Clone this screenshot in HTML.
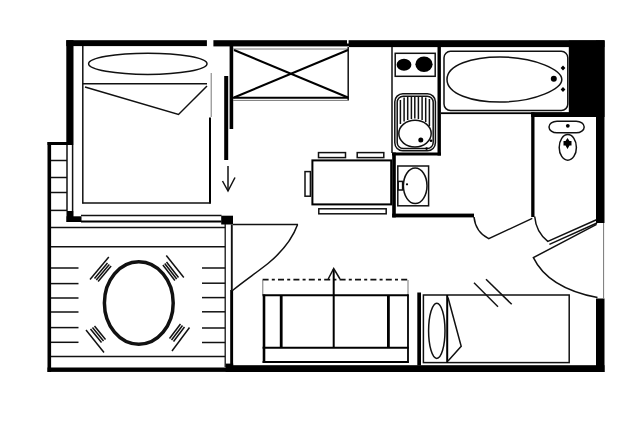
<!DOCTYPE html>
<html><head><meta charset="utf-8"><title>Floor plan</title>
<style>
html,body{margin:0;padding:0;background:#fff;overflow:hidden}
svg{display:block}
.w{fill:#000;stroke:none}
.t{fill:none;stroke:#111;stroke-width:1.5}
.m{fill:none;stroke:#000;stroke-width:2}
.k{fill:none;stroke:#000;stroke-width:3}
.g{fill:none;stroke:#777;stroke-width:1}
</style></head><body>
<svg width="640" height="427" viewBox="0 0 640 427">
<rect x="0" y="0" width="640" height="427" fill="#fff"/>

<!-- ===== outer walls ===== -->
<g class="w">
<rect x="66.3" y="40.2" width="140.6" height="5.9"/>
<rect x="213.4" y="40.2" width="135.6" height="6.2"/><rect x="349" y="40.2" width="255.5" height="6.9"/>
<rect x="66.3" y="40.2" width="7.2" height="104.8"/>
<rect x="66.5" y="211" width="7" height="11"/>
<rect x="66.5" y="216.3" width="15" height="5.7"/>
<rect x="568.8" y="40.5" width="35.7" height="76.5"/>
<rect x="596" y="40.5" width="8.5" height="182.5"/>
<rect x="596" y="298.5" width="8.5" height="73.5"/>
<rect x="233" y="365.2" width="371.5" height="6.8"/>
<rect x="225.6" y="363.6" width="7.6" height="8.4"/>
<!-- balcony thick frame -->
<rect x="47.5" y="142" width="3.6" height="230"/>
<rect x="47.5" y="142" width="19.5" height="3"/>
<rect x="47.5" y="367.5" width="180" height="4.4"/>
<!-- interior walls -->
<rect x="437.5" y="46" width="3.4" height="109.5"/>
<rect x="392" y="152.5" width="49" height="3"/>
<rect x="392.2" y="152.5" width="3.6" height="64.9"/>
<rect x="392.2" y="213.6" width="81.8" height="3.8"/>
<rect x="531.2" y="112.4" width="3.3" height="104.6"/><rect x="531.2" y="112.4" width="38" height="4.6"/>
<rect x="441" y="112.3" width="128" height="1.8"/>
<rect x="417.3" y="292.5" width="3.7" height="73"/>
<rect x="221.2" y="215.7" width="11.8" height="8.8"/>
<rect x="229.6" y="46" width="3.6" height="83"/>
<rect x="224.2" y="76" width="4" height="84"/>
<rect x="230.2" y="290" width="2.9" height="76"/>
<rect x="209" y="117.5" width="2" height="86"/>
</g>
<rect x="347" y="40" width="1.6" height="3.5" fill="#fff"/>
<line class="g" x1="603.6" y1="223" x2="603.6" y2="298.5" stroke="#333"/>

<!-- ===== left window / balcony ladder ===== -->
<line class="t" x1="67" y1="145" x2="67" y2="211"/>
<line class="t" x1="72.6" y1="145" x2="72.6" y2="211"/>
<g class="t">
<line x1="51" y1="160.5" x2="67" y2="160.5"/>
<line x1="51" y1="177.5" x2="67" y2="177.5"/>
<line x1="51" y1="192.5" x2="67" y2="192.5"/>
<line x1="51" y1="210.4" x2="67" y2="210.4"/>
</g>

<!-- ===== bedroom bottom window ===== -->
<line class="t" x1="81" y1="215.6" x2="221.5" y2="215.6"/>
<line class="m" x1="81" y1="221.6" x2="221.5" y2="221.6" stroke-width="1.8"/>

<!-- ===== double bed ===== -->
<g class="t" stroke-width="1.5">
<line x1="82.8" y1="46" x2="82.8" y2="203.6"/>
<line x1="82.2" y1="203" x2="210.8" y2="203"/>
<line x1="82.8" y1="83.8" x2="207" y2="83.8"/>
<ellipse cx="147.8" cy="63.8" rx="59.2" ry="10.6"/>
<polyline points="85,87 178.5,114.5 207,86"/>
</g>
<line class="g" x1="211.2" y1="73" x2="211.2" y2="117" stroke="#999"/>

<!-- ===== sliding door arrow ===== -->
<g class="t">
<line x1="228" y1="166" x2="228" y2="191"/>
<polyline points="222.5,181 228,191 235,177.5"/>
</g>

<!-- ===== closet ===== -->
<g>
<line class="g" x1="233" y1="49" x2="348" y2="49" stroke="#888" stroke-width="1.8"/>

<line class="m" x1="233" y1="97.8" x2="349" y2="97.8"/>
<line class="g" x1="233" y1="100.4" x2="349" y2="100.4" stroke="#888"/>
<line class="t" x1="348.2" y1="47" x2="348.2" y2="100"/>
<line class="m" x1="234" y1="50" x2="348" y2="97.5"/>
<line class="m" x1="234" y1="97.5" x2="348" y2="50"/>
</g>

<!-- ===== kitchen ===== -->
<line class="t" x1="392" y1="47" x2="392" y2="153"/>
<rect class="t" x="395.2" y="53.3" width="40" height="23"/>
<ellipse cx="404" cy="64.8" rx="7.4" ry="6" fill="#000"/>
<ellipse cx="424" cy="64.2" rx="8.6" ry="7.8" fill="#000"/>
<rect class="t" x="394.8" y="93.8" width="40.6" height="57" rx="8" ry="8" stroke-width="1.1"/>
<rect class="t" x="397.2" y="96.2" width="36" height="52.4" rx="6" ry="6" stroke-width="1.1"/>
<g class="t" stroke-width="1.3">
<line x1="400.4" y1="100" x2="400.4" y2="124"/>
<line x1="404.1" y1="97.5" x2="404.1" y2="121.5"/>
<line x1="407.7" y1="97" x2="407.7" y2="120"/>
<line x1="411.4" y1="97" x2="411.4" y2="119"/>
<line x1="414.8" y1="97" x2="414.8" y2="118.6"/>
<line x1="418.4" y1="97" x2="418.4" y2="119"/>
<line x1="422.1" y1="97" x2="422.1" y2="120"/>
<line x1="425.7" y1="97.5" x2="425.7" y2="122"/>
<line x1="429.4" y1="99" x2="429.4" y2="126"/>
</g>
<ellipse cx="415" cy="133.6" rx="16.2" ry="13.4" fill="#fff" stroke="#111" stroke-width="1.5"/>
<circle cx="420.8" cy="140.1" r="2.5" fill="#000"/>
<circle cx="431" cy="140.8" r="1.3" fill="#000"/>
<circle cx="426.6" cy="148.6" r="1.3" fill="#000"/>

<!-- ===== wash basin ===== -->
<rect class="t" x="397.8" y="166" width="30.8" height="39.8"/>
<ellipse class="t" cx="415.2" cy="185.8" rx="11.8" ry="17.8"/>
<rect class="t" x="398.2" y="181.4" width="4.4" height="8.6"/>
<circle cx="407" cy="184.3" r="1.1" fill="#000"/>

<!-- ===== bath tub ===== -->
<rect class="t" x="444" y="51.3" width="123.8" height="59.2" rx="6.5" ry="6.5"/>
<path class="t" d="M447,79.5 C447,65 472,57 500,57 C536,57 561.8,70.5 561.8,79.5 C561.8,88.5 536,102 500,102 C472,102 447,94 447,79.5 Z"/>
<circle cx="553.8" cy="78.8" r="3" fill="#000"/>
<path d="M560.6,68 l2.4,-2.4 l2.4,2.4 l-2.4,2.4z M560.6,89.5 l2.4,-2.4 l2.4,2.4 l-2.4,2.4z" fill="#000"/>

<!-- ===== WC ===== -->
<rect class="t" x="549" y="121.2" width="35.2" height="11.6" rx="8" ry="5.8" stroke-width="1.8"/>
<circle cx="567.8" cy="125.8" r="1.9" fill="#000"/>
<ellipse class="t" cx="567.8" cy="147.4" rx="8.6" ry="12.8" stroke-width="1.8"/>
<path d="M567.5,138 l2,3 h2 v4.5 h-2 l-2,3.5 l-2,-3.5 h-2 v-4.5 h2z" fill="#000"/>

<!-- ===== dining table ===== -->
<rect class="m" x="312.4" y="160.4" width="78.8" height="44" stroke-width="1.8"/>
<g class="t">
<rect x="318.5" y="152.6" width="27" height="5"/>
<rect x="357.2" y="152.6" width="26.6" height="5"/>
<rect x="318.8" y="208.8" width="67.4" height="5"/>
<rect x="305" y="171.6" width="5.4" height="24.6"/>
</g>

<!-- ===== balcony ===== -->
<g class="t">
<line x1="51" y1="227.6" x2="225.2" y2="227.6"/>
<line x1="51" y1="246.8" x2="225.2" y2="246.8"/>
<line x1="51" y1="356.6" x2="225.2" y2="356.6"/>
<line x1="225.2" y1="224" x2="225.2" y2="367" stroke-width="1.3"/>
<line x1="231.8" y1="224.5" x2="231.8" y2="291" stroke-width="1.9"/>
<line x1="51" y1="268" x2="78.5" y2="268"/>
<line x1="51" y1="283.6" x2="78.5" y2="283.6"/>
<line x1="51" y1="298" x2="78.5" y2="298"/>
<line x1="51" y1="312" x2="78.5" y2="312"/>
<line x1="51" y1="327.6" x2="78.5" y2="327.6"/>
<line x1="51" y1="342.3" x2="78.5" y2="342.3"/>
<line x1="202" y1="268" x2="225.2" y2="268"/>
<line x1="202" y1="283.2" x2="225.2" y2="283.2"/>
<line x1="202" y1="297.6" x2="225.2" y2="297.6"/>
<line x1="202" y1="311.8" x2="225.2" y2="311.8"/>
<line x1="202" y1="328" x2="225.2" y2="328"/>
<line x1="202" y1="342.5" x2="225.2" y2="342.5"/>
</g>
<ellipse cx="138.8" cy="303" rx="34.4" ry="41.2" fill="none" stroke="#111" stroke-width="3.5"/>
<!-- chairs -->
<g class="t" stroke="#222" stroke-width="1.8">
<line x1="90" y1="279.5" x2="108.8" y2="257"/>
<line x1="94.5" y1="278.5" x2="107.5" y2="263"/>
<line x1="96.3" y1="280" x2="109.3" y2="264.5"/>
<line x1="98.1" y1="281.5" x2="111.1" y2="266"/>
<line x1="166.3" y1="255.5" x2="183.8" y2="277.5"/>
<line x1="166.5" y1="262" x2="178.5" y2="277.5"/>
<line x1="164.7" y1="263.5" x2="176.7" y2="279"/>
<line x1="162.9" y1="265" x2="174.9" y2="280.5"/>
<line x1="189.5" y1="327.5" x2="172" y2="351"/>
<line x1="184.5" y1="327" x2="173.5" y2="341.5"/>
<line x1="182.5" y1="325.5" x2="171.5" y2="340"/>
<line x1="180.5" y1="324" x2="169.5" y2="338.5"/>
<line x1="86" y1="330" x2="104" y2="352.5"/>
<line x1="90.5" y1="329" x2="101.5" y2="342.5"/>
<line x1="92.5" y1="327.5" x2="103.5" y2="341"/>
<line x1="94.5" y1="326" x2="105.5" y2="339.5"/>
</g>

<!-- ===== balcony door ===== -->
<line class="t" x1="233" y1="224.6" x2="298" y2="224.6" stroke-width="1.5"/>
<path class="t" d="M297.6,224.6 C292,240 282,252 268,263.5 C256,273 244,281 232.5,290.5"/>

<!-- ===== sofa ===== -->
<line x1="262.6" y1="279.6" x2="408" y2="279.6" stroke="#111" stroke-width="1.8" stroke-dasharray="6 3.2 3 3.2"/>
<line class="g" x1="262.8" y1="280" x2="262.8" y2="295" stroke="#555"/>
<line class="g" x1="408" y1="280" x2="408" y2="295" stroke="#555"/>
<g class="m">
<line x1="262.6" y1="295.2" x2="408.6" y2="295.2"/>
<line x1="264" y1="294.5" x2="264" y2="363" stroke-width="2.6"/>
<line x1="408" y1="294.5" x2="408" y2="363" stroke-width="1.8"/>
<line x1="262.6" y1="362" x2="408.6" y2="362"/>
<line x1="262.6" y1="347.8" x2="408.6" y2="347.8"/>
<line x1="281.2" y1="295" x2="281.2" y2="348" stroke-width="2.8"/>
<line x1="388.4" y1="295" x2="388.4" y2="348" stroke-width="2.8"/>
<line x1="333.7" y1="269" x2="333.7" y2="348"/>
</g>
<polyline class="t" points="328.2,279 333.7,268.5 340,279"/>

<!-- ===== single bed ===== -->
<rect class="t" x="423.4" y="295" width="145.8" height="67.6" stroke-width="1.5"/>
<line class="m" x1="447.2" y1="295" x2="447.2" y2="362.6"/>
<ellipse class="t" cx="436.8" cy="330.8" rx="8.2" ry="27.6"/>
<polyline class="t" points="448,297.5 461.2,346.3 448,361"/>
<line class="t" x1="474" y1="282.7" x2="498" y2="306.7"/>
<line class="t" x1="486" y1="279.2" x2="511.7" y2="304.3"/>

<!-- ===== doors right ===== -->
<path class="t" d="M474,217 Q475.5,232 488.7,238.7 L532.3,218.4"/>
<path class="t" d="M534.7,216.5 Q536,232 547.8,241.4 L596.5,219.8"/>
<line class="t" x1="549.4" y1="244.4" x2="597" y2="223"/>
<path class="t" d="M596.6,224.4 L533.4,257.6 Q548,288 597.5,297.6"/>
</svg>
</body></html>
